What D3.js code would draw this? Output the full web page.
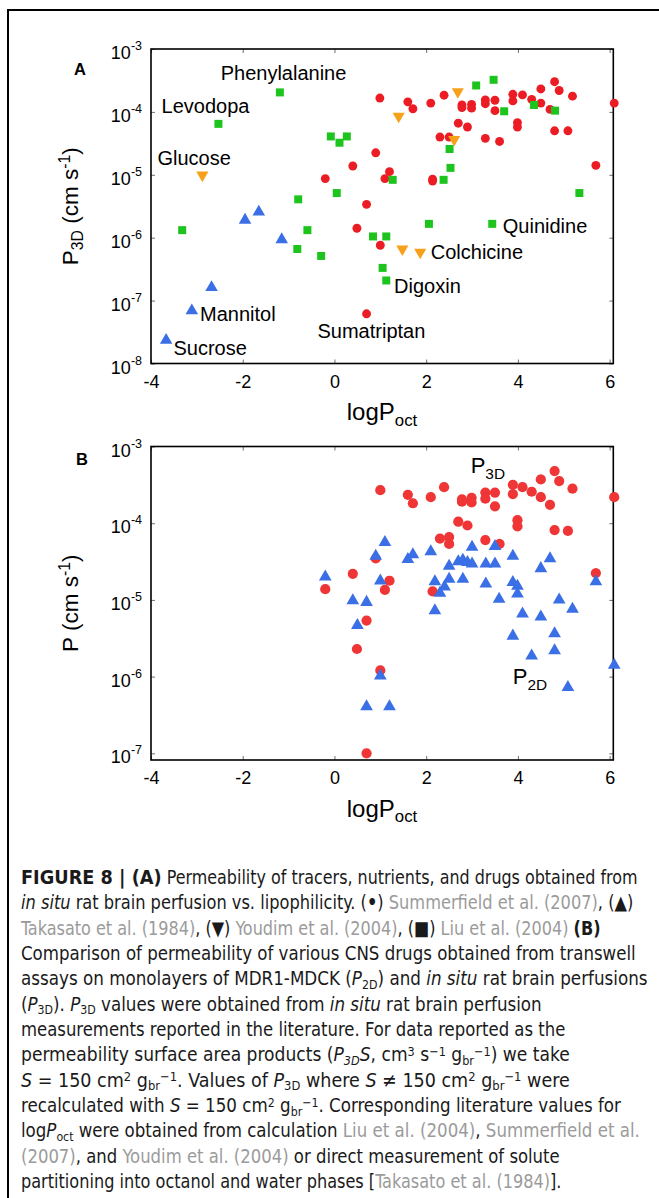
<!DOCTYPE html>
<html><head><meta charset="utf-8">
<script src="https://cdn.jsdelivr.net/npm/d3@7"></script>
<style>body{margin:0;background:#fff}svg{display:block}</style>
</head><body>
<svg id="c" width="659" height="1198"></svg>
<script>
// ---------------- DATA ----------------
const xTicks = [-4, -2, 0, 2, 4, 6];
const yExpA = [-3, -4, -5, -6, -7, -8];
const yExpB = [-3, -4, -5, -6, -7];

// Panel A: [logPoct, log10 P3D]
const summerfieldA = [[0.99,-3.78],[1.60,-3.84],[1.71,-3.95],[2.10,-3.86],[2.39,-3.735],[2.78,-3.89],[2.78,-3.93],[2.99,-3.88],[2.99,-3.94],[3.29,-3.81],[3.29,-3.87],[3.50,-3.815],[3.50,-3.98],[3.89,-3.72],[3.89,-3.825],[4.10,-3.73],[4.30,-3.80],[4.50,-3.635],[4.50,-3.86],[4.80,-3.52],[4.90,-3.66],[5.19,-3.75],[4.70,-3.96],[6.10,-3.86],[2.70,-4.18],[2.90,-4.24],[3.99,-4.17],[3.99,-4.24],[2.30,-4.40],[2.50,-4.40],[3.29,-4.42],[3.60,-4.47],[4.80,-4.30],[5.09,-4.30],[0.90,-4.65],[0.40,-4.86],[1.20,-4.95],[1.10,-5.06],[-0.20,-5.06],[2.14,-5.07],[2.14,-5.10],[5.70,-4.85],[0.70,-5.47],[0.49,-5.85],[1.00,-6.12],[0.70,-7.21]];
const takasatoA = [[-1.95,-5.72],[-1.65,-5.59],[-1.15,-6.03],[-2.68,-6.79],[-3.11,-7.16],[-3.67,-7.63]];
const youdimA = [[-2.88,-5.005],[1.40,-4.07],[2.69,-3.68],[2.61,-4.44],[1.48,-6.18],[1.87,-6.23]];
const liuA = [[-1.19,-3.69],[-2.53,-4.19],[-0.08,-4.39],[0.27,-4.39],[0.11,-4.49],[0.05,-5.29],[-0.79,-5.39],[-3.32,-5.88],[-0.59,-5.88],[-0.81,-6.18],[-0.29,-6.29],[0.84,-5.98],[1.13,-5.98],[1.05,-6.48],[1.13,-6.68],[1.27,-5.08],[2.06,-5.78],[2.38,-5.08],[2.53,-4.89],[2.51,-4.59],[3.09,-3.58],[3.47,-3.49],[3.70,-3.99],[4.35,-3.89],[4.81,-3.98],[5.34,-5.29],[3.44,-5.78]];
const labelsA = ["Phenylalanine","Levodopa","Glucose","Quinidine","Colchicine","Digoxin","Mannitol","Sumatriptan","Sucrose"];
const labelPosA = [[-2.48,-3.49],[-3.77,-4.02],[-3.86,-4.84],[3.67,-5.92],[2.10,-6.34],[1.30,-6.88],[-2.93,-7.33],[-0.37,-7.59],[-3.51,-7.86]];

// Panel B: [logPoct, log10 P]
const p3dB = [[1.00,-3.57],[1.60,-3.63],[1.71,-3.74],[2.10,-3.66],[2.39,-3.53],[2.78,-3.69],[2.78,-3.72],[2.99,-3.67],[2.99,-3.73],[3.29,-3.60],[3.29,-3.68],[3.50,-3.60],[3.50,-3.78],[3.89,-3.50],[3.89,-3.62],[4.10,-3.53],[4.30,-3.59],[4.50,-3.43],[4.50,-3.66],[4.80,-3.32],[4.90,-3.45],[5.19,-3.55],[4.70,-3.76],[6.10,-3.66],[2.70,-3.98],[2.90,-4.03],[3.99,-3.96],[3.99,-4.04],[2.30,-4.20],[2.50,-4.18],[2.50,-4.27],[3.29,-4.22],[3.60,-4.27],[4.80,-4.09],[5.09,-4.10],[0.90,-4.46],[0.40,-4.66],[1.20,-4.75],[1.10,-4.87],[-0.20,-4.86],[2.14,-4.89],[5.70,-4.65],[0.70,-5.27],[0.49,-5.64],[1.00,-5.92],[0.70,-7.00]];
const p2dB = [[-0.20,-4.70],[0.40,-5.01],[0.70,-5.03],[0.50,-5.33],[0.90,-4.43],[1.10,-4.25],[1.00,-4.75],[1.00,-5.99],[0.70,-6.39],[1.20,-6.39],[1.60,-4.47],[1.71,-4.41],[2.10,-4.37],[2.19,-4.76],[2.30,-4.91],[2.40,-4.83],[2.50,-4.73],[2.19,-5.14],[2.50,-4.56],[2.70,-4.50],[2.80,-4.48],[2.90,-4.51],[3.00,-4.53],[3.00,-4.31],[2.80,-4.73],[3.30,-4.53],[3.50,-4.53],[3.50,-4.30],[3.30,-4.79],[3.59,-4.99],[3.89,-4.43],[3.89,-4.77],[3.99,-4.82],[3.99,-4.92],[4.10,-5.18],[3.89,-5.47],[4.30,-5.73],[4.50,-5.22],[4.50,-4.59],[4.70,-4.46],[4.80,-5.44],[4.80,-5.66],[4.90,-5.00],[5.19,-5.12],[5.09,-6.14],[5.70,-4.76],[6.10,-5.85]];
const labelsB = [["P","3D"],["P","2D"]];
const labelPosB = [[2.97,-3.35],[3.89,-6.10]];

// Caption lines (segments: text, flags)
const captionLines = [
  [["FIGURE 8 | (A)","b w"],[" Permeability of tracers, nutrients, and drugs obtained from",""]],
  [["in situ","i"],[" rat brain perfusion vs. lipophilicity. (",""],["•","b"],[") ",""],["Summerfield et al. (2007)","g"],[", (",""],["▲","b"],[")",""]],
  [["Takasato et al. (1984)","g"],[", (",""],["▼","b"],[") ",""],["Youdim et al. (2004)","g"],[", (",""],["■","b"],[") ",""],["Liu et al. (2004)","g"],[" ",""],["(B)","b"]],
  [["Comparison of permeability of various CNS drugs obtained from transwell",""]],
  [["assays on monolayers of MDR1-MDCK (",""],["P","i"],["2D","sub"],[") and ",""],["in situ","i"],[" rat brain perfusions",""]],
  [["(",""],["P","i"],["3D","sub"],["). ",""],["P","i"],["3D","sub"],[" values were obtained from ",""],["in situ","i"],[" rat brain perfusion",""]],
  [["measurements reported in the literature. For data reported as the",""]],
  [["permeability surface area products (",""],["P","i"],["3D","sub i"],["S","i"],[", cm",""],["3","sup"],[" s",""],["−1","sup"],[" g",""],["br","sub"],["−1","sup"],[") we take",""]],
  [["S","i"],[" = 150 cm",""],["2","sup"],[" g",""],["br","sub"],["−1","sup"],[". Values of ",""],["P","i"],["3D","sub"],[" where ",""],["S","i"],[" ≠ 150 cm",""],["2","sup"],[" g",""],["br","sub"],["−1","sup"],[" were",""]],
  [["recalculated with ",""],["S","i"],[" = 150 cm",""],["2","sup"],[" g",""],["br","sub"],["−1","sup"],[". Corresponding literature values for",""]],
  [["log",""],["P","i"],["oct","sub"],[" were obtained from calculation ",""],["Liu et al. (2004)","g"],[", ",""],["Summerfield et al.","g"]],
  [["(2007)","g"],[", and ",""],["Youdim et al. (2004)","g"],[" or direct measurement of solute",""]],
  [["partitioning into octanol and water phases [",""],["Takasato et al. (1984)","g"],["].",""]]
];
const captionRightEdges = [638,634,602,636,648,542,566,570,570,622,640,560,562];

// ---------------- RENDER ----------------
const svg = d3.select("#c");
const FONT = "'Liberation Sans', Arial, Helvetica, sans-serif";
const RED = "#ec1c24", BLUE = "#3b6fe6", ORANGE = "#f7a11b", GREEN = "#1ec41e";

// outer frame
svg.append("path").attr("d","M8,1198V10H659").attr("fill","none").attr("stroke","#000").attr("stroke-width",2);

function rich(sel, segs, base, subK = 0.24, supK = 0.36, scK = 0.7) {
  let shift = 0;
  segs.forEach(([t, f]) => {
    const fl = (f||"").split(" ");
    let s = 0, size = base;
    if (fl.includes("sub")) { s = base*subK; size = base*scK; }
    if (fl.includes("sup")) { s = -base*supK; size = base*scK; }
    const ts = sel.append("tspan").text(t).attr("font-size", size).attr("dy", s - shift);
    shift = s;
    if (fl.includes("b")) ts.attr("font-weight","bold");
    if (fl.includes("w")) ts.attr("font-family","'DejaVu Sans', 'Liberation Sans', sans-serif");
    if (fl.includes("i")) ts.attr("font-style","italic");
    if (fl.includes("g")) ts.attr("fill","#9b9b9b");
  });
}

function panel(cfg) {
  const x = d3.scaleLinear().domain([-4, 6.08]).range([151, 613.3]);
  const y = d3.scaleLog().domain(cfg.yDomain).range([cfg.bottom, cfg.top]);
  const g = svg.append("g");
  const tickStyle = s => { s.select(".domain").remove(); s.selectAll(".tick line").attr("stroke","#707070").attr("stroke-width",1); };
  g.append("g").attr("transform",`translate(0,${cfg.bottom})`)
    .call(d3.axisBottom(x).tickValues(xTicks).tickSizeInner(-4).tickSizeOuter(0).tickPadding(11.5).tickFormat(d=>String(d)))
    .call(tickStyle)
    .call(s=>s.selectAll("text").attr("font-family",FONT).attr("font-size",18).attr("fill","#000"));
  g.append("g").attr("transform",`translate(0,${cfg.top})`)
    .call(d3.axisTop(x).tickValues(xTicks).tickSizeInner(-4).tickSizeOuter(0).tickFormat(""))
    .call(tickStyle);
  const yVals = cfg.yExp.map(e => Math.pow(10, e));
  g.append("g").attr("transform",`translate(151,0)`)
    .call(d3.axisLeft(y).tickValues(yVals).tickSizeInner(-4).tickSizeOuter(0).tickFormat(""))
    .call(tickStyle);
  g.append("g").attr("transform",`translate(613.3,0)`)
    .call(d3.axisRight(y).tickValues(yVals).tickSizeInner(-4).tickSizeOuter(0).tickFormat(""))
    .call(tickStyle);
  cfg.yExp.forEach(e => {
    const t = g.append("text").attr("x",142).attr("y", y(Math.pow(10,e)) + 10)
      .attr("text-anchor","end").attr("font-family",FONT).attr("fill","#000");
    t.append("tspan").attr("font-size",18).text("10");
    t.append("tspan").attr("font-size",12.5).attr("dy",-9).text(String(e));
  });
  g.append("rect").attr("x",151).attr("y",cfg.top).attr("width",613.3-151).attr("height",cfg.bottom-cfg.top)
    .attr("fill","none").attr("stroke","#000").attr("stroke-width",1.6);
  const xt = g.append("text").attr("x",382).attr("y",cfg.bottom+56.5).attr("text-anchor","middle")
    .attr("font-family",FONT).attr("fill","#000");
  rich(xt, [["logP",""],["oct","sub"]], 24);
  const yt = g.append("text").attr("transform",`translate(78,${(cfg.top+cfg.bottom)/2}) rotate(-90)`)
    .attr("text-anchor","middle").attr("font-family",FONT).attr("fill","#000");
  rich(yt, cfg.yTitle, 22.5);
  g.append("text").attr("x",cfg.letterX).attr("y",cfg.letterY).attr("font-family",FONT)
    .attr("font-weight","bold").attr("font-size",16.5).attr("text-anchor","middle").text(cfg.letter);

  const sym = (type, size) => d3.symbol().type(type).size(size)();
  cfg.series.forEach(sr => {
    g.append("g").selectAll("path").data(sr.data).join("path")
      .attr("d", sym(sr.type, sr.size))
      .attr("transform", d => `translate(${x(d[0])},${y(Math.pow(10,d[1]))})${sr.flip?" rotate(180)":""}`)
      .attr("fill", sr.color);
  });
  return {x, y, g};
}

// Panel A
const A = panel({
  top: 49, bottom: 363.5, yDomain: [1e-8, 1e-3], yExp: yExpA,
  yTitle: [["P",""],["3D","sub"],[" (cm s",""],["-1","sup"],[")",""]],
  letter: "A", letterX: 80, letterY: 75,
  series: [
    {data: summerfieldA, type: d3.symbolCircle, size: 62, color: RED},
    {data: youdimA, type: d3.symbolTriangle, size: 64, color: ORANGE, flip: true},
    {data: liuA, type: d3.symbolSquare, size: 64, color: GREEN},
    {data: takasatoA, type: d3.symbolTriangle, size: 68, color: BLUE}
  ]
});
A.g.append("g").selectAll("text").data(labelsA).join("text")
  .attr("x",(d,i)=>A.x(labelPosA[i][0])).attr("y",(d,i)=>A.y(Math.pow(10,labelPosA[i][1])))
  .attr("font-family",FONT).attr("font-size",20).attr("fill","#000").text(d=>d);

// Panel B
const B = panel({
  top: 446.5, bottom: 760, yDomain: [Math.pow(10,-7.087), 1e-3], yExp: yExpB,
  yTitle: [["P (cm s",""],["-1","sup"],[")",""]],
  letter: "B", letterX: 82, letterY: 465,
  series: [
    {data: p3dB, type: d3.symbolCircle, size: 82, color: "#ef3535"},
    {data: p2dB, type: d3.symbolTriangle, size: 70, color: BLUE}
  ]
});
labelsB.forEach((lb, i) => {
  const t = B.g.append("text").attr("x", B.x(labelPosB[i][0])).attr("y", B.y(Math.pow(10,labelPosB[i][1])))
    .attr("font-family",FONT).attr("fill","#000");
  rich(t, [[lb[0],""],[lb[1],"sub"]], 22);
});

// Caption
const CFONT = "'Liberation Sans Narrow','Arial Narrow','DejaVu Sans Condensed','Liberation Sans',sans-serif";
captionLines.forEach((segs, i) => {
  const yb = 884 + i*25.33;
  const t = svg.append("text").attr("x",0).attr("y",0).attr("font-family",CFONT).attr("fill","#1a1a1a");
  rich(t, segs, 19.5, 0.19, 0.28, 0.66);
  const w = t.node().getBBox().width;
  const tw = captionRightEdges[i] - 21;
  t.attr("transform", `translate(21,${yb}) scale(${tw/w},1)`);
});
</script>
</body></html>
